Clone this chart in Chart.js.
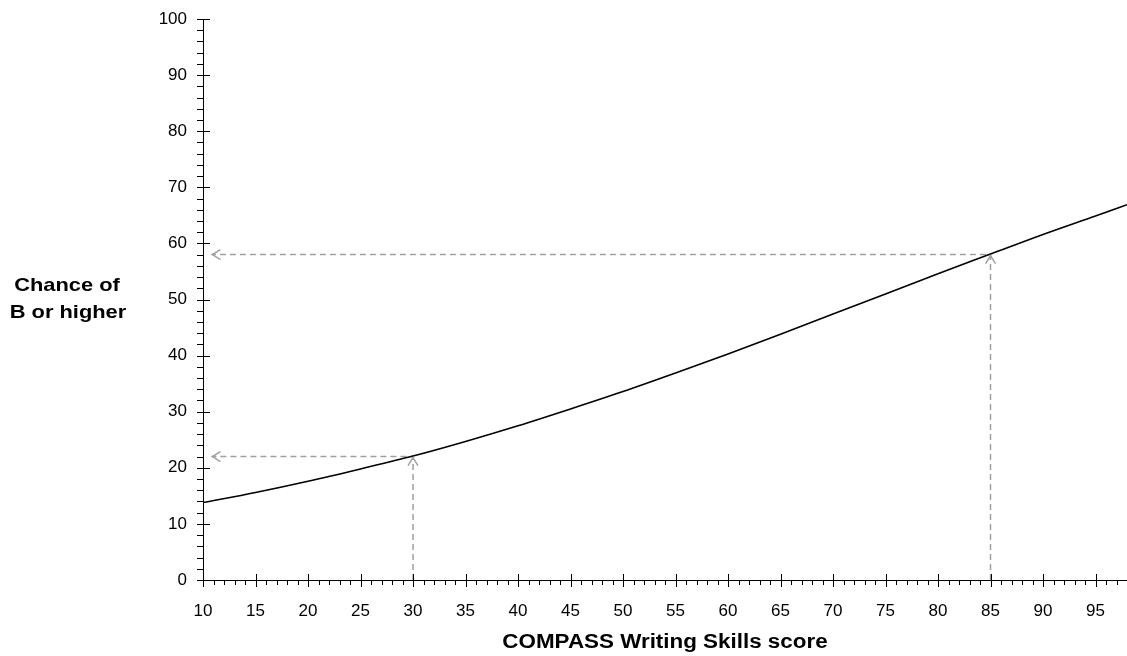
<!DOCTYPE html>
<html>
<head>
<meta charset="utf-8">
<script src="https://cdn.jsdelivr.net/npm/chart.js@4"></script>
<style>
  html, body { margin: 0; padding: 0; background: #fff; }
  #wrap { width: 1127px; height: 656px; }
</style>
</head>
<body>
<div id="wrap"><canvas id="chance_chart"></canvas></div>
<script>
// score on the x axis, chance (%) on the y axis
let scores = [10, 15, 20, 25, 30, 35, 40, 45, 50, 55, 60, 65, 70, 75, 80, 85, 90, 95, 98]
let chances = [13.8, 15.6, 17.6, 19.8, 22.1, 24.7, 27.5, 30.5, 33.6, 36.9, 40.3, 43.8, 47.4, 51.0, 54.6, 58.1, 61.6, 64.9, 66.9]

// the two read-off guides (score -> chance)
let guideScores = [30, 85]
let guideChances = [22, 58]
let guideArrowEnd = 10.8

let xTickLabels = [10, 15, 20, 25, 30, 35, 40, 45, 50, 55, 60, 65, 70, 75, 80, 85, 90, 95]
let yTickLabels = [0, 10, 20, 30, 40, 50, 60, 70, 80, 90, 100]

let FONT = "'Liberation Sans', Arial, Helvetica, sans-serif"
let GUIDE_COLOR = "#a0a0a0"

let guideSets = []
for (let i = 0; i < guideScores.length; i++) {
  guideSets.push({
    data: [
      {x: guideScores[i], y: 0},
      {x: guideScores[i], y: guideChances[i]},
      {x: guideArrowEnd, y: guideChances[i]}
    ],
    borderColor: GUIDE_COLOR,
    borderWidth: 1.5,
    borderDash: [6, 4],
    pointRadius: 0,
    tension: 0
  })
}

function wideText(ctx, text, x, y, sx) {
  ctx.save()
  ctx.translate(x, y)
  ctx.scale(sx, 1)
  ctx.fillText(text, 0, 0)
  ctx.restore()
}

// 畫刻度、箭頭、軸標題
let extrasPlugin = {
  id: "extras",
  afterDraw(chart) {
    let ctx = chart.ctx
    let xs = chart.scales.x
    let ys = chart.scales.y
    let x0 = xs.getPixelForValue(10)
    let y0 = ys.getPixelForValue(0)
    ctx.save()
    ctx.strokeStyle = "#000"
    ctx.lineWidth = 1
    ctx.beginPath()
    for (let v = 0; v <= 100; v += 2) {
      let py = Math.round(ys.getPixelForValue(v)) + 0.5
      if (yTickLabels.includes(v)) {
        ctx.moveTo(x0 - 6, py); ctx.lineTo(x0 + 7, py)
      } else {
        ctx.moveTo(x0 - 6, py); ctx.lineTo(x0, py)
      }
    }
    for (let v = 10; v <= 98; v++) {
      let px = Math.round(xs.getPixelForValue(v)) + 0.5
      if (xTickLabels.includes(v)) {
        ctx.moveTo(px, y0 - 6); ctx.lineTo(px, y0 + 7)
      } else {
        ctx.moveTo(px, y0); ctx.lineTo(px, y0 + 5)
      }
    }
    ctx.stroke()

    // arrowheads
    ctx.strokeStyle = GUIDE_COLOR
    ctx.lineWidth = 1.5
    ctx.beginPath()
    for (let i = 0; i < guideScores.length; i++) {
      let tx = xs.getPixelForValue(guideScores[i])
      let ty = ys.getPixelForValue(guideChances[i])
      ctx.moveTo(tx - 5, ty + 9); ctx.lineTo(tx, ty + 1); ctx.lineTo(tx + 5, ty + 9)
      let lx = xs.getPixelForValue(guideArrowEnd)
      ctx.moveTo(lx + 9, ty - 5); ctx.lineTo(lx + 1, ty); ctx.lineTo(lx + 9, ty + 5)
    }
    ctx.stroke()

    ctx.fillStyle = "#000"
    ctx.textAlign = "center"
    ctx.textBaseline = "middle"
    ctx.font = "bold 19px " + FONT
    wideText(ctx, "Chance of", 67, 286, 1.15)
    wideText(ctx, "B or higher", 68, 313, 1.15)
    ctx.font = "bold 20px " + FONT
    wideText(ctx, "COMPASS Writing Skills score", (xs.left + xs.right) / 2, 642, 1.12)
    ctx.restore()
  }
}

let chance_chart_element = new Chart(document.getElementById("chance_chart"), {
  type: "line",
  data: {
    datasets: [
      {
        data: scores.map((s, i) => ({x: s, y: chances[i]})),
        borderColor: "#000",
        borderWidth: 1.6,
        pointRadius: 0,
        cubicInterpolationMode: "monotone"
      },
      ...guideSets
    ]
  },
  options: {
    responsive: true,
    maintainAspectRatio: false,
    animation: false,
    layout: { padding: { top: 19, right: 0, left: 0, bottom: 0 } },
    plugins: { legend: { display: false }, tooltip: { enabled: false } },
    scales: {
      x: {
        type: "linear",
        min: 10,
        max: 98,
        afterBuildTicks: (scale) => { scale.ticks = xTickLabels.map(v => ({value: v})) },
        afterFit: (scale) => { scale.height = 76; scale.paddingLeft = 0; scale.paddingRight = 0 },
        grid: { display: false, drawTicks: false },
        border: { display: true, color: "#000", width: 1 },
        ticks: { color: "#000", font: { family: FONT, size: 17 }, padding: 21, maxRotation: 0 }
      },
      y: {
        min: 0,
        max: 100,
        afterBuildTicks: (scale) => { scale.ticks = yTickLabels.map(v => ({value: v})) },
        afterFit: (scale) => { scale.width = 203; scale.paddingTop = 0; scale.paddingBottom = 0 },
        grid: { display: false, drawTicks: false },
        border: { display: true, color: "#000", width: 1 },
        ticks: { color: "#000", font: { family: FONT, size: 17 }, padding: 16 }
      }
    }
  },
  plugins: [extrasPlugin]
})
</script>
</body>
</html>
